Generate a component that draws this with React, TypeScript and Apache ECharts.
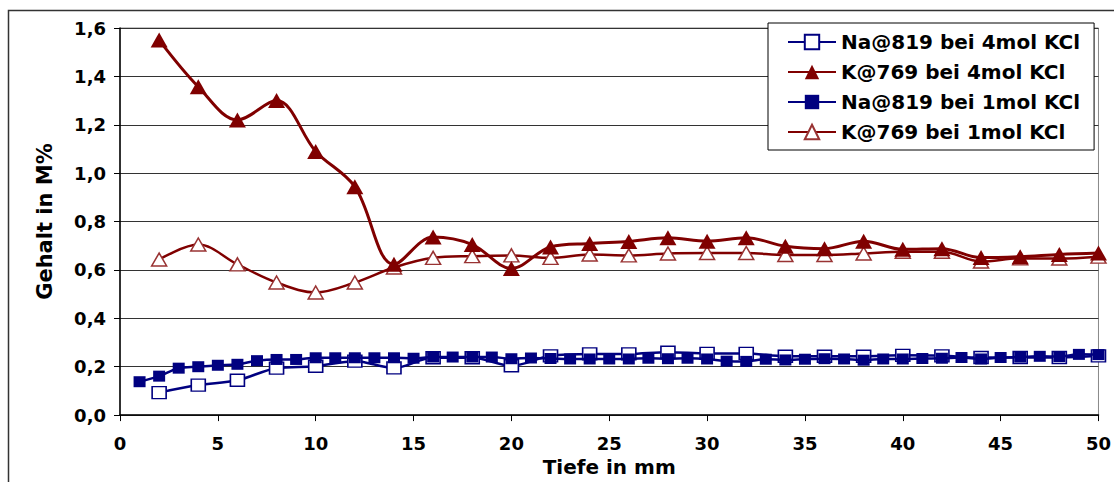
import React, { useEffect, useRef } from "react";
import * as echarts from "echarts";

const depthEven = [2, 4, 6, 8, 10, 12, 14, 16, 18, 20, 22, 24, 26, 28, 30, 32, 34, 36, 38, 40, 42, 44, 46, 48, 50];
const depthAll = [1, 2, 3, 4, 5, 6, 7, 8, 9, 10, 11, 12, 13, 14, 15, 16, 17, 18, 19, 20, 21, 22, 23, 24, 25, 26, 27, 28, 29, 30, 31, 32, 33, 34, 35, 36, 37, 38, 39, 40, 41, 42, 43, 44, 45, 46, 47, 48, 49, 50];

const naKcl4 = [0.093, 0.124, 0.144, 0.194, 0.202, 0.223, 0.195, 0.237, 0.237, 0.204, 0.245, 0.253, 0.253, 0.26, 0.255, 0.255, 0.243, 0.243, 0.243, 0.247, 0.245, 0.238, 0.238, 0.238, 0.245];
const kKcl4 = [1.55, 1.357, 1.22, 1.3, 1.09, 0.944, 0.623, 0.736, 0.705, 0.606, 0.695, 0.709, 0.718, 0.733, 0.719, 0.733, 0.698, 0.688, 0.719, 0.685, 0.688, 0.651, 0.655, 0.664, 0.67];
const naKcl1 = [0.138, 0.161, 0.194, 0.2, 0.206, 0.21, 0.225, 0.23, 0.23, 0.237, 0.237, 0.237, 0.237, 0.237, 0.235, 0.24, 0.24, 0.24, 0.24, 0.233, 0.236, 0.234, 0.232, 0.232, 0.232, 0.232, 0.235, 0.233, 0.235, 0.232, 0.223, 0.222, 0.231, 0.228, 0.231, 0.233, 0.232, 0.227, 0.232, 0.232, 0.234, 0.235, 0.238, 0.232, 0.238, 0.24, 0.243, 0.242, 0.251, 0.25];
const kKcl1 = [0.643, 0.705, 0.623, 0.548, 0.507, 0.548, 0.61, 0.65, 0.657, 0.66, 0.65, 0.664, 0.66, 0.668, 0.67, 0.67, 0.662, 0.662, 0.668, 0.675, 0.675, 0.635, 0.648, 0.647, 0.655];

const seriesNames = ["Na@819 bei 4mol KCl", "K@769 bei 4mol KCl", "Na@819 bei 1mol KCl", "K@769 bei 1mol KCl"];
const yTicks = { min: 0, max: 1.6, interval: 0.2 };
const xTicks = { min: 0, max: 50, interval: 5 };

const FONT = "DejaVu Sans";
const NAVY = "#000080";
const RED = "#800000";

function zip(xs: number[], ys: number[]) {
  return xs.map((x, i) => [x, ys[i]]);
}

export default function App() {
  const ref = useRef<HTMLDivElement>(null);
  useEffect(() => {
    if (!ref.current) return;
    const chart = echarts.init(ref.current, null, { renderer: "svg" });
    const axisText = { fontFamily: FONT, fontSize: 18, fontWeight: "bold" as const, color: "#000" };
    chart.setOption({
      animation: false,
      backgroundColor: "#fff",
      textStyle: { fontFamily: FONT },
      grid: { left: 120, right: 15, top: 28, bottom: 66, show: true, borderColor: "#888", borderWidth: 1 },
      xAxis: {
        type: "value",
        min: xTicks.min,
        max: xTicks.max,
        interval: xTicks.interval,
        name: "Tiefe in mm",
        nameLocation: "middle",
        nameGap: 40,
        nameTextStyle: { fontFamily: FONT, fontSize: 20, fontWeight: "bold", color: "#000" },
        axisLine: { show: true, lineStyle: { color: "#000", width: 1.5 } },
        axisTick: { show: true, length: 6, lineStyle: { color: "#000", width: 1 } },
        axisLabel: { ...axisText, margin: 19 },
        splitLine: { show: false },
      },
      yAxis: {
        type: "value",
        min: yTicks.min,
        max: yTicks.max,
        interval: yTicks.interval,
        name: "Gehalt in M%",
        nameLocation: "middle",
        nameRotate: 90,
        nameGap: 65,
        nameTextStyle: { fontFamily: FONT, fontSize: 21, fontWeight: "bold", color: "#000" },
        axisLine: { show: true, lineStyle: { color: "#000", width: 1.5 } },
        axisTick: { show: true, length: 6, lineStyle: { color: "#000", width: 1 } },
        axisLabel: { ...axisText, margin: 14, formatter: (v: number) => v.toFixed(1).replace(".", ",") },
        splitLine: { show: true, lineStyle: { color: "#333", width: 1 } },
      },
      legend: {
        data: seriesNames,
        orient: "vertical",
        left: 768,
        top: 23,
        padding: [9, 14, 8, 19],
        itemGap: 10,
        itemWidth: 48,
        itemHeight: 18,
        borderColor: "#000",
        borderWidth: 1,
        backgroundColor: "#fff",
        textStyle: { fontFamily: FONT, fontSize: 20, fontWeight: "bold", color: "#000", lineHeight: 20 },
      },
      graphic: [
        {
          type: "rect",
          silent: true,
          shape: { x: 8.5, y: 10.5, width: 1300, height: 700 },
          style: { fill: "none", stroke: "#333", lineWidth: 1.5 },
        },
      ],
      series: [
        {
          name: seriesNames[0],
          type: "line",
          z: 2,
          smooth: 0.35,
          symbol: "rect",
          symbolSize: [14, 12],
          data: zip(depthEven, naKcl4),
          lineStyle: { color: NAVY, width: 2.5 },
          itemStyle: { color: "#fff", borderColor: NAVY, borderWidth: 1.5 },
        },
        {
          name: seriesNames[1],
          type: "line",
          z: 4,
          smooth: 0.35,
          symbol: "triangle",
          symbolSize: [17, 15],
          data: zip(depthEven, kKcl4),
          lineStyle: { color: RED, width: 3 },
          itemStyle: { color: RED, borderColor: RED, borderWidth: 0 },
        },
        {
          name: seriesNames[2],
          type: "line",
          z: 3,
          smooth: 0.35,
          symbol: "rect",
          symbolSize: [12, 11],
          data: zip(depthAll, naKcl1),
          lineStyle: { color: NAVY, width: 2.5 },
          itemStyle: { color: NAVY, borderColor: NAVY, borderWidth: 0 },
        },
        {
          name: seriesNames[3],
          type: "line",
          z: 2,
          smooth: 0.35,
          symbol: "triangle",
          symbolSize: [15, 13],
          data: zip(depthEven, kKcl1),
          lineStyle: { color: RED, width: 2.5 },
          itemStyle: { color: "#fff", borderColor: "#993333", borderWidth: 1.5 },
        },
      ],
    });
    return () => chart.dispose();
  }, []);
  return (
    <div
      ref={ref}
      style={{ position: "absolute", left: 0, top: 0, width: 1114, height: 482 }}
    />
  );
}
